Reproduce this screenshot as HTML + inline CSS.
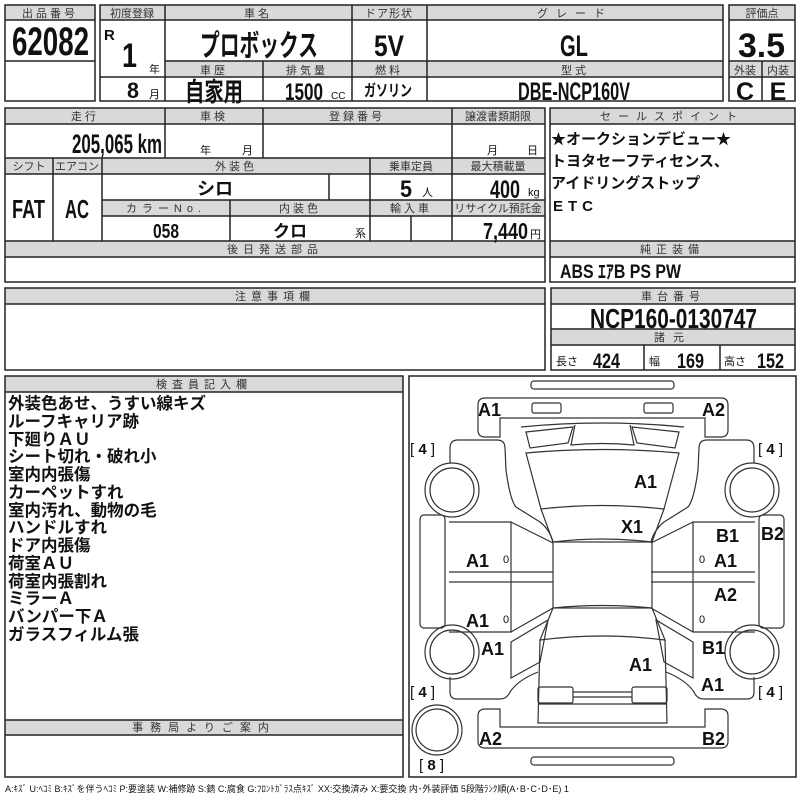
<!DOCTYPE html>
<html><head><meta charset="utf-8"><style>
html,body{margin:0;padding:0;background:#fff;}
svg{display:block;}
text{font-family:"Liberation Sans","Noto Sans CJK JP",sans-serif;fill:#111;}
.l{font-size:11px;fill:#333;text-anchor:middle;letter-spacing:3px;}
.b{font-weight:bold;font-family:"Liberation Sans Narrow","Liberation Sans","Noto Sans CJK JP",sans-serif;}
.c{text-anchor:middle;}
.g{fill:#d9d9d9;}
.s{fill:none;stroke:#222;stroke-width:1.5;}
.d{fill:none;stroke:#333;stroke-width:1.2;}
</style></head><body>
<svg width="800" height="800" viewBox="0 0 800 800">
<rect width="800" height="800" fill="#fff"/>
<rect class="g" x="5" y="5" width="90" height="15"/>
<rect class="g" x="100" y="5" width="623" height="15"/>
<rect class="g" x="165" y="61" width="558" height="16"/>
<rect class="g" x="729" y="5" width="66" height="15"/>
<rect class="g" x="729" y="61" width="66" height="16"/>
<rect class="s" x="5" y="5" width="90" height="96"/>
<path class="s" d="M5 20H95M5 61H95"/>
<rect class="s" x="100" y="5" width="623" height="96"/>
<path class="s" d="M100 20H723M165 61H723M100 77H723M165 5V101M352 5V101M427 5V101M263 61V101"/>
<rect class="s" x="729" y="5" width="66" height="96"/>
<path class="s" d="M729 20H795M729 61H795M729 77H795M762 61V101"/>
<text class="l" x="50" y="17">出品番号</text>
<text class="l" x="132" y="17" style="letter-spacing:0">初度登録</text>
<text class="l" x="258" y="17">車名</text>
<text class="l" x="389" y="17" style="letter-spacing:1px">ドア形状</text>
<text class="l" x="575" y="17" style="letter-spacing:8px">グレード</text>
<text class="l" x="762" y="17" style="letter-spacing:0">評価点</text>
<text class="l" x="214" y="74">車歴</text>
<text class="l" x="307" y="74">排気量</text>
<text class="l" x="389" y="74">燃料</text>
<text class="l" x="575" y="74">型式</text>
<text class="l" x="745" y="74" style="letter-spacing:0">外装</text>
<text class="l" x="778" y="74" style="letter-spacing:0">内装</text>
<text class="b" x="12" y="55" font-size="40" textLength="77" lengthAdjust="spacingAndGlyphs">62082</text>
<text class="b" x="104" y="40" font-size="15">R</text>
<text class="b" x="122" y="67" font-size="34" textLength="15" lengthAdjust="spacingAndGlyphs">1</text>
<text x="149" y="73" font-size="11">年</text>
<text class="b" x="127" y="98" font-size="22" textLength="12" lengthAdjust="spacingAndGlyphs">8</text>
<text x="149" y="98" font-size="11">月</text>
<text class="b" x="200" y="56" font-size="30" textLength="118" lengthAdjust="spacingAndGlyphs">プロボックス</text>
<text class="b" x="374" y="56" font-size="30" textLength="30" lengthAdjust="spacingAndGlyphs">5V</text>
<text class="b" x="560" y="56" font-size="30" textLength="28" lengthAdjust="spacingAndGlyphs">GL</text>
<text class="b" x="738" y="57" font-size="34" textLength="47" lengthAdjust="spacingAndGlyphs">3.5</text>
<text class="b" x="185" y="101" font-size="26" textLength="58" lengthAdjust="spacingAndGlyphs">自家用</text>
<text class="b" x="285" y="100" font-size="24" textLength="38" lengthAdjust="spacingAndGlyphs">1500</text>
<text x="331" y="99" font-size="10">CC</text>
<text class="b" x="364" y="96" font-size="16" textLength="48" lengthAdjust="spacingAndGlyphs">ガソリン</text>
<text class="b" x="518" y="100" font-size="25" textLength="112" lengthAdjust="spacingAndGlyphs">DBE-NCP160V</text>
<text class="b c" x="745" y="100" font-size="25">C</text>
<text class="b c" x="778" y="100" font-size="25">E</text>

<rect class="g" x="5" y="108" width="540" height="16"/>
<rect class="g" x="5" y="158" width="540" height="16"/>
<rect class="g" x="102" y="200" width="443" height="16"/>
<rect class="g" x="5" y="241" width="540" height="16"/>
<rect class="s" x="5" y="108" width="540" height="174"/>
<path class="s" d="M5 124H545M5 158H545M5 174H545M102 200H545M102 216H545M5 241H545M5 257H545"/>
<path class="s" d="M165 108V158M263 108V158M452 108V241M53 158V241M102 158V241M370 158V241M329 174V200M230 200V241M411 216V241"/>
<text class="l" x="85" y="120">走行</text>
<text class="l" x="214" y="120">車検</text>
<text class="l" x="357" y="120">登録番号</text>
<text class="l" x="498" y="120" style="letter-spacing:0">譲渡書類期限</text>
<text class="l" x="29" y="170" style="letter-spacing:0">シフト</text>
<text class="l" x="77" y="170" style="letter-spacing:0">エアコン</text>
<text class="l" x="236" y="170">外装色</text>
<text class="l" x="411" y="170" style="letter-spacing:0">乗車定員</text>
<text class="l" x="498" y="170" style="letter-spacing:0">最大積載量</text>
<text class="l" x="166" y="212" style="letter-spacing:5px">カラーNo.</text>
<text class="l" x="300" y="212">内装色</text>
<text class="l" x="411" y="212">輸入車</text>
<text class="l" x="498" y="212" style="letter-spacing:0">リサイクル預託金</text>
<text class="l" x="275" y="253" style="letter-spacing:5px">後日発送部品</text>
<text class="b" x="72" y="153" font-size="27" textLength="90" lengthAdjust="spacingAndGlyphs">205,065 km</text>
<text x="200" y="154" font-size="11">年</text><text x="242" y="154" font-size="11">月</text>
<text x="487" y="154" font-size="11">月</text><text x="527" y="154" font-size="11">日</text>
<text class="b" x="12" y="218" font-size="26" textLength="33" lengthAdjust="spacingAndGlyphs">FAT</text>
<text class="b" x="65" y="218" font-size="26" textLength="24" lengthAdjust="spacingAndGlyphs">AC</text>
<text class="b c" x="215" y="195" font-size="18">シロ</text>
<text class="b" x="400" y="197" font-size="24" textLength="12" lengthAdjust="spacingAndGlyphs">5</text><text x="422" y="196" font-size="11">人</text>
<text class="b" x="490" y="198" font-size="25" textLength="30" lengthAdjust="spacingAndGlyphs">400</text><text x="528" y="196" font-size="11">kg</text>
<text class="b" x="153" y="238" font-size="20" textLength="26" lengthAdjust="spacingAndGlyphs">058</text>
<text class="b c" x="290" y="237" font-size="17">クロ</text>
<text x="355" y="237" font-size="11">系</text>
<text class="b" x="483" y="239" font-size="23" textLength="45" lengthAdjust="spacingAndGlyphs">7,440</text><text x="530" y="238" font-size="11">円</text>

<rect class="g" x="550" y="108" width="245" height="16"/>
<rect class="g" x="550" y="241" width="245" height="16"/>
<rect class="s" x="550" y="108" width="245" height="174"/>
<path class="s" d="M550 124H795M550 241H795M550 257H795"/>
<text class="l" x="672" y="120" style="letter-spacing:7px">セールスポイント</text>
<text class="l" x="672" y="253" style="letter-spacing:5px">純正装備</text>
<g font-weight="bold" font-size="15">
<text x="551" y="144">★オークションデビュー★</text>
<text x="551" y="166">トヨタセーフティセンス、</text>
<text x="551" y="188">アイドリングストップ</text>
<text x="553" y="211" letter-spacing="5">ETC</text>
</g>
<text class="b" x="560" y="278" font-size="19" textLength="121" lengthAdjust="spacingAndGlyphs">ABS ｴｱB PS PW</text>

<rect class="g" x="5" y="288" width="540" height="16"/>
<rect class="s" x="5" y="288" width="540" height="82"/>
<path class="s" d="M5 304H545"/>
<text class="l" x="275" y="300" style="letter-spacing:5px">注意事項欄</text>
<rect class="g" x="551" y="288" width="244" height="16"/>
<rect class="g" x="551" y="329" width="244" height="16"/>
<rect class="s" x="551" y="288" width="244" height="82"/>
<path class="s" d="M551 304H795M551 329H795M551 345H795M644 345V370M720 345V370"/>
<text class="l" x="673" y="300" style="letter-spacing:5px">車台番号</text>
<text class="l" x="673" y="341" style="letter-spacing:8px">諸元</text>
<text class="b" x="590" y="328" font-size="28" textLength="167" lengthAdjust="spacingAndGlyphs">NCP160-0130747</text>
<text x="556" y="365" font-size="11">長さ</text><text class="b" x="593" y="368" font-size="21" textLength="27" lengthAdjust="spacingAndGlyphs">424</text>
<text x="649" y="365" font-size="11">幅</text><text class="b" x="677" y="368" font-size="21" textLength="27" lengthAdjust="spacingAndGlyphs">169</text>
<text x="724" y="365" font-size="11">高さ</text><text class="b" x="757" y="368" font-size="21" textLength="27" lengthAdjust="spacingAndGlyphs">152</text>

<rect class="g" x="5" y="376" width="398" height="16"/>
<rect class="g" x="5" y="720" width="398" height="15"/>
<rect class="s" x="5" y="376" width="398" height="401"/>
<path class="s" d="M5 392H403M5 720H403M5 735H403"/>
<text class="l" x="204" y="388" style="letter-spacing:5px">検査員記入欄</text>
<text class="l" x="204" y="731" style="letter-spacing:7px">事務局よりご案内</text>
<g font-weight="bold" font-size="16.5">
<text x="8" y="409">外装色あせ、うすい線キズ</text>
<text x="8" y="427">ルーフキャリア跡</text>
<text x="8" y="445">下廻りＡＵ</text>
<text x="8" y="462">シート切れ・破れ小</text>
<text x="8" y="480">室内内張傷</text>
<text x="8" y="498">カーペットすれ</text>
<text x="8" y="516">室内汚れ、動物の毛</text>
<text x="8" y="533">ハンドルすれ</text>
<text x="8" y="551">ドア内張傷</text>
<text x="8" y="569">荷室ＡＵ</text>
<text x="8" y="587">荷室内張割れ</text>
<text x="8" y="604">ミラーＡ</text>
<text x="8" y="622">バンパー下Ａ</text>
<text x="8" y="640">ガラスフィルム張</text>
</g>
<text x="5" y="792" font-size="9" fill="#333">A:ｷｽﾞ U:ﾍｺﾐ B:ｷｽﾞを伴うﾍｺﾐ P:要塗装 W:補修跡 S:錆 C:腐食 G:ﾌﾛﾝﾄｶﾞﾗｽ点ｷｽﾞ XX:交換済み X:要交換 内･外装評価 5段階ﾗﾝｸ順(A･B･C･D･E) 1</text>

<rect class="s" x="409" y="376" width="387" height="401"/>
<g class="d">
<rect x="531" y="381" width="143" height="8" rx="3"/>
<rect x="531" y="757" width="143" height="8" rx="3"/>
<path d="M485 398H721Q728 398 728 405V430Q728 437 721 437H705V418H500V437H485Q478 437 478 430V405Q478 398 485 398Z"/>
<path d="M485 748H721Q728 748 728 741V716Q728 709 721 709H705V727H500V709H485Q478 709 478 716V741Q478 748 485 748Z"/>
<rect x="532" y="403" width="29" height="10" rx="2"/>
<rect x="644" y="403" width="29" height="10" rx="2"/>
<path d="M521 427Q602 419 684 427"/>
<path d="M526 432L573 427L568 443L530 448Z"/>
<path d="M679 432L632 427L637 443L675 448Z"/>
<path d="M575 425L571 445Q602 442 634 445L630 425"/>
<path d="M526 453Q602 446 679 453L664 509Q602 502 541 509Z"/>
<path d="M541 509L553 542Q602 536 652 542L664 509"/>
<rect x="553" y="542" width="99" height="66" fill="none"/>
<path d="M553 608Q602 603 652 608L665 640Q602 632 540 640Z"/>
<path d="M540 640L538 723H667L665 640"/>
<rect x="538" y="687" width="35" height="16" rx="2"/>
<rect x="632" y="687" width="35" height="16" rx="2"/>
<path d="M573 692H632M573 697H632"/>
<path d="M538 704H667"/>
<circle cx="437" cy="730" r="25"/><circle cx="437" cy="730" r="21"/>
</g>
<g class="d" id="side">
<path d="M450 463V448Q450 440 458 440H497Q505 440 505 448L506 470Q510 500 516 507L540 522Q550 530 553 542"/>
<circle cx="452" cy="490" r="27"/><circle cx="452" cy="490" r="22"/>
<rect x="420" y="515" width="25" height="113" rx="4"/>
<path d="M449 522H511V632H449"/>
<path d="M449 572H553M449 582H553"/>
<path d="M511 522L553 543M511 632L553 608"/>
<circle cx="452" cy="652" r="27"/><circle cx="452" cy="652" r="22"/>
<path d="M511 642L548 620L540 662L511 678Z"/>
<path d="M450 677V692Q450 699 457 699H500Q507 699 510 692Q518 680 538 672"/>
</g>
<use href="#side" transform="translate(1204,0) scale(-1,1)"/>
<g font-size="11" fill="#333"><text x="503" y="563">0</text><text x="503" y="623">0</text><text x="699" y="563">0</text><text x="699" y="623">0</text></g>
<g class="b" font-size="18">
<text x="478" y="416">A1</text><text x="702" y="416">A2</text>
<text x="634" y="488">A1</text><text x="621" y="533">X1</text>
<text x="716" y="542">B1</text><text x="761" y="540">B2</text>
<text x="466" y="567">A1</text><text x="714" y="567">A1</text>
<text x="714" y="601">A2</text>
<text x="466" y="627">A1</text><text x="481" y="655">A1</text>
<text x="702" y="654">B1</text><text x="629" y="671">A1</text>
<text x="701" y="691">A1</text>
<text x="479" y="745">A2</text><text x="702" y="745">B2</text>
</g>
<g font-size="15"><text x="410" y="454">[ <tspan font-weight="bold">4</tspan> ]</text>
<text x="758" y="454">[ <tspan font-weight="bold">4</tspan> ]</text>
<text x="410" y="697">[ <tspan font-weight="bold">4</tspan> ]</text>
<text x="758" y="697">[ <tspan font-weight="bold">4</tspan> ]</text>
<text x="419" y="770">[ <tspan font-weight="bold">8</tspan> ]</text></g>
</svg>
</body></html>
